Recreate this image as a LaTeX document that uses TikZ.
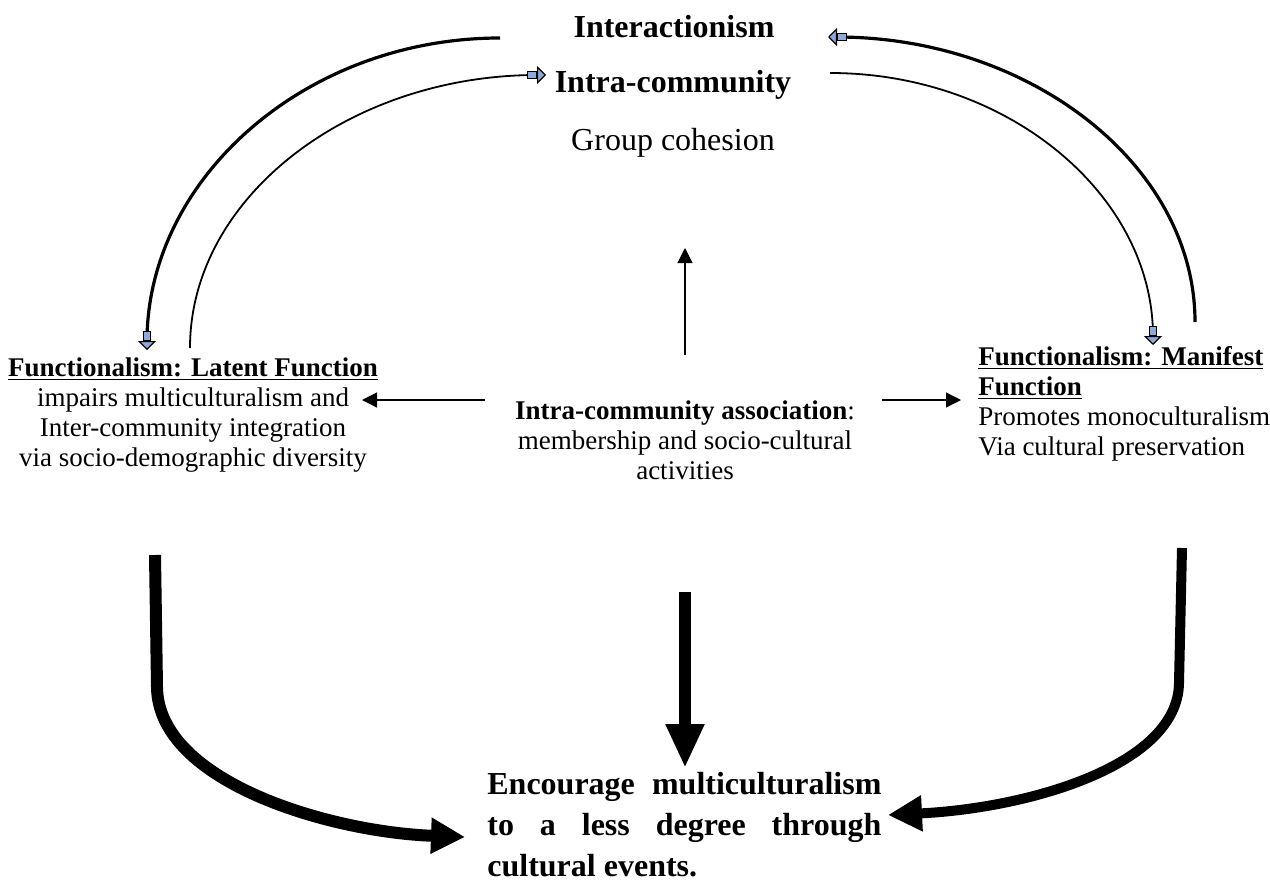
\documentclass[tikz,border=0pt]{standalone}
\usepackage{fontspec}
\setmainfont{Liberation Serif}
\usepackage{tikz}
\usetikzlibrary{arrows.meta}
\definecolor{tipblue}{HTML}{8EAADB}

\begin{document}
\begin{tikzpicture}[x=0.5pt,y=-0.5pt,
    bigtitle/.style={font=\bfseries\fontsize{16}{19}\selectfont,inner sep=0pt},
    body/.style={font=\fontsize{13.5}{15}\selectfont,inner sep=0pt},
    blocktip/.style={-{Rectangle[length=5pt,width=4pt,fill=tipblue,line width=0.6pt]Triangle[length=4.5pt,width=9pt,fill=tipblue,line width=0.6pt]}},
    thin/.style={line width=0.6pt,-{Triangle[length=7.5pt,width=7.5pt]}},
    heavy/.style={-{Triangle[length=17pt,width=17pt]}}]
      \useasboundingbox (0,0) rectangle (1270,884);
      % top
      \node[bigtitle] (inter) at (674,27) {Interactionism};
      \node[bigtitle] (intra) at (673,85) {Intra-community};
      \node[body,font=\fontsize{16}{19}\selectfont] (cohesion) at (673,143) {Group cohesion};
      % three blocks
      \node[body,align=center,anchor=north] (latent) at (193,357)
        {\textbf{\underline{Functionalism: Latent Function}}\\impairs multiculturalism and\\Inter-community integration\\via socio-demographic diversity};
      \node[body,align=center,anchor=north] (assoc) at (685,400)
        {\textbf{Intra-community association}:\\membership and socio-cultural\\activities};
      \node[body,align=left,anchor=north west] (manifest) at (978,346)
        {\textbf{\underline{Functionalism: Manifest}}\\\textbf{\underline{Function}}\\Promotes monoculturalism\\Via cultural preservation};
      \node[bigtitle,anchor=north west,text width=197pt,align=justify,font=\bfseries\fontsize{16}{20.5}\selectfont] (encourage) at (487,772)
        {Encourage \mbox{multiculturalism}\linebreak to a less degree through\linebreak \mbox{cultural} \mbox{events.}};
      % ends of the connectors
      \coordinate (lo1) at (500,38);
      \coordinate (lo2) at (147,350);
      \coordinate (li1) at (190,348);
      \coordinate (li2) at (546,75);
      \coordinate (ro1) at (1195,322);
      \coordinate (ro2) at (828,37);
      \coordinate (ri1) at (830,73);
      \coordinate (ri2) at (1153,345);
      \coordinate (up1) at (685,355);
      \coordinate (up2) at (685,248);
      \coordinate (al) at (485,400);
      \coordinate (bl) at (362,400);
      \coordinate (ar) at (882,400);
      \coordinate (br) at (961,400);
      \coordinate (down1) at (685,592);
      \coordinate (down2) at (685,768);
      \coordinate (hl1) at (155,555);
      \coordinate (hl2) at (157,687);
      \coordinate (hl3) at (465,837);
      \coordinate (hr1) at (1182,548);
      \coordinate (hr2) at (1179,683);
      \coordinate (hr3) at (888,815);
      % curved loops
      \draw[blocktip,line width=1.6pt] (lo1) .. controls (305,38) and (147,179) .. (lo2);
      \draw[blocktip,line width=0.9pt] (li1) .. controls (190,197) and (350,75) .. (li2);
      \draw[blocktip,line width=1.6pt] (ro1) .. controls (1195,165) and (1030,37) .. (ro2);
      \draw[blocktip,line width=0.9pt] (ri1) .. controls (1008,73) and (1153,195) .. (ri2);
      % straight arrows
      \draw[thin] (up1) -- (up2);
      \draw[thin] (al) -- (bl);
      \draw[thin] (ar) -- (br);
      \draw[line width=6pt,-{Triangle[length=22pt,width=18pt]}] (down1) -- (down2);
      \draw[heavy,line width=6pt] (hl1) -- (hl2) .. controls (158,782) and (330,832) .. (hl3);
      \draw[heavy,line width=5pt] (hr1) -- (hr2) .. controls (1178,765) and (1030,808) .. (hr3);
\end{tikzpicture}
\end{document}
